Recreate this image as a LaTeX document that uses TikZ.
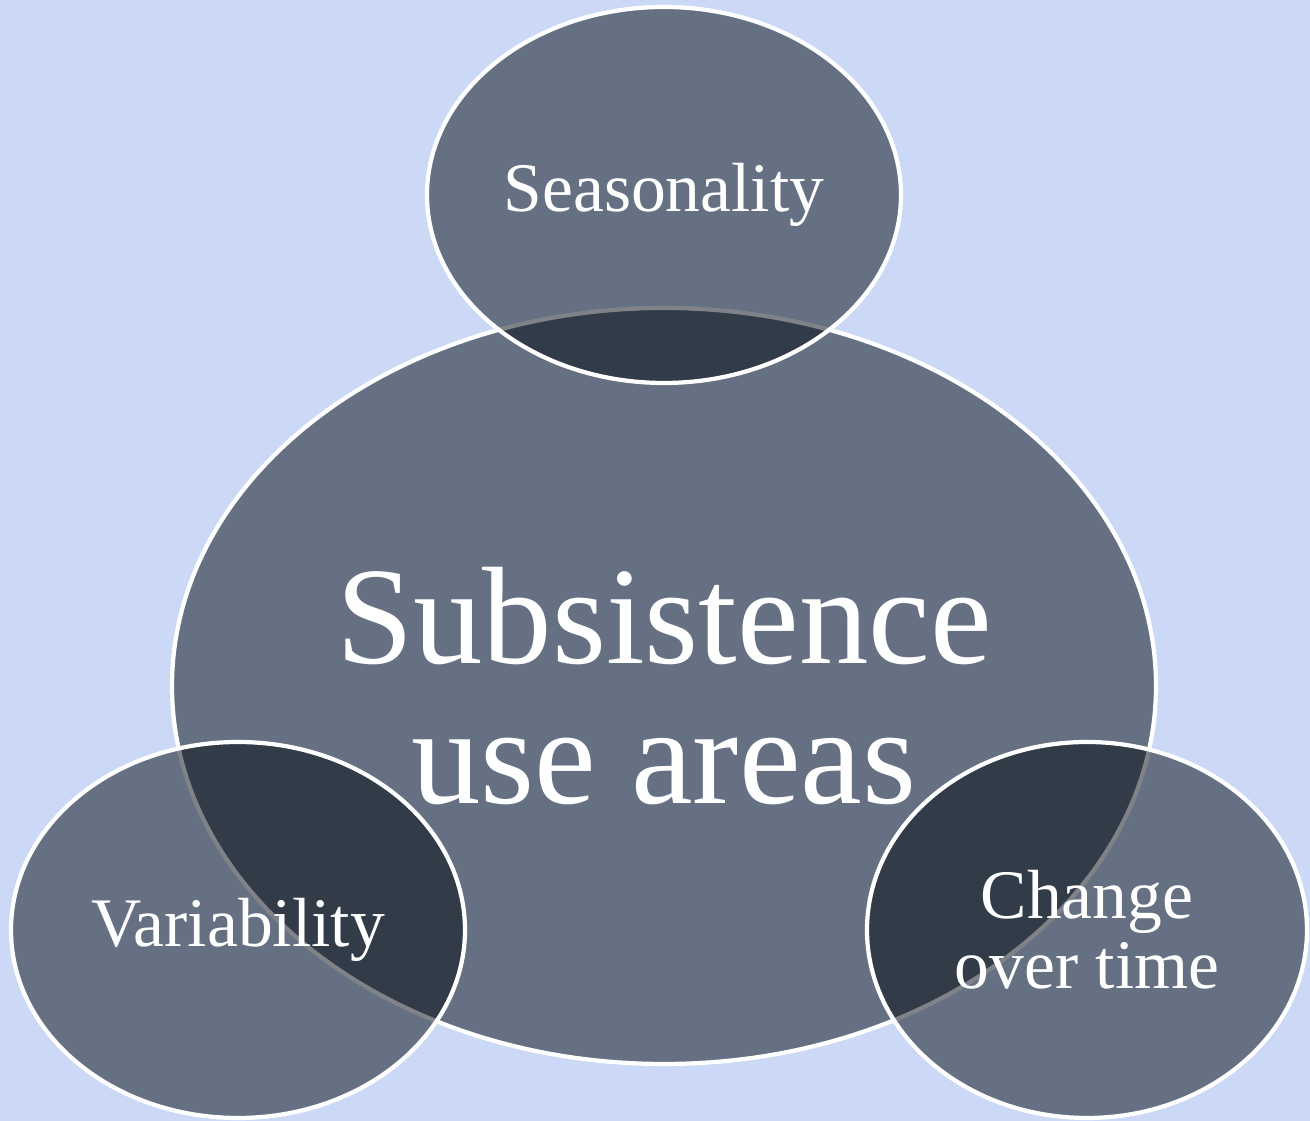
\documentclass[tikz,border=0pt]{standalone}
\usepackage{fontspec}
\setmainfont{Liberation Serif}
\usetikzlibrary{shapes.geometric}
\definecolor{paper}{RGB}{204,217,246}
\definecolor{slate}{RGB}{0,8,16}
\begin{document}
\begin{tikzpicture}[
    blob/.style={ellipse, draw=white, line width=1.2pt, fill=slate, fill opacity=0.5,
        text opacity=1, text=white, inner sep=0pt, align=center},
    bigtext/.style={font=\fontsize{39.5}{40}\selectfont},
    smalltext/.style={font=\fontsize{19.8}{20}\selectfont}]
    \fill[paper] (0,0) rectangle (13.1,11.21);
    \useasboundingbox (0,0) rectangle (13.1,11.21);
	% the main area first, the three aspects over it
    \node[blob, bigtext, minimum width=9.84cm, minimum height=7.56cm] (areas) at (6.64,4.35) {Subsistence\\use areas};
    \node[blob, smalltext, minimum width=4.74cm, minimum height=3.76cm] (season) at (6.64,9.26) {Seasonality};
    \node[blob, smalltext, minimum width=4.54cm, minimum height=3.76cm] (vari) at (2.38,1.91) {Variability};
    \node[blob, smalltext, minimum width=4.40cm, minimum height=3.76cm] (change) at (10.87,1.91) {Change\\over time};
	\end{tikzpicture}
\end{document}
